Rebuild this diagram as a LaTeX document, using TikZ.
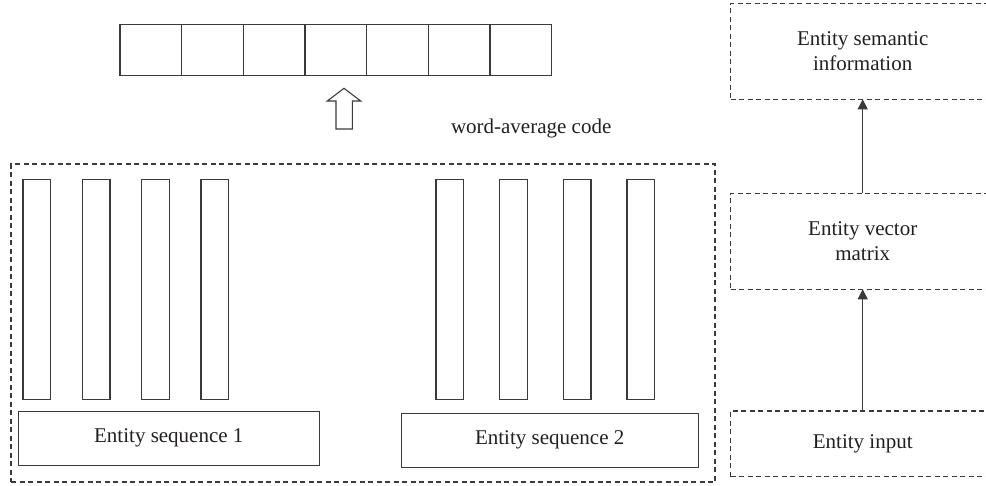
\documentclass[tikz,border=0pt]{standalone}
\usepackage{fontspec}
\setmainfont{Liberation Serif}
\usetikzlibrary{arrows.meta}

\definecolor{inkgray}{HTML}{3A3A3A}
\definecolor{textgray}{HTML}{231F20}

\begin{document}
\begin{tikzpicture}[x=1pt,y=-1pt,
  line width=1.1pt, draw=inkgray,
  every node/.style={inner sep=0pt, outer sep=0pt, text=textgray,
    font=\fontsize{21}{25}\selectfont, align=center},
  cell/.style={draw=inkgray, minimum width=61.67pt, minimum height=50.7pt},
  bar/.style={draw=inkgray, minimum width=27.7pt, minimum height=220pt},
  seqbox/.style={draw=inkgray, minimum height=53.5pt},
  dashbox/.style={draw=inkgray, dash pattern=on 5pt off 3.5pt},
  flow/.style={draw=inkgray, -{Triangle[length=10pt,width=10pt]}}]

\useasboundingbox (0,0) rectangle (986,485) ;

% word vector cells
\foreach \i in {0,...,6}
  \node[cell] (cell\i) at ({150.8+61.67*\i},49.7) {} ;

% hollow arrow under the cells
\draw[inkgray] (344,88.3) -- (360.7,101) -- (352.3,101) -- (352.3,129)
  -- (336,129) -- (336,101) -- (327.3,101) -- cycle ;

\node[anchor=base west] (avgcode) at (451,133) {word-average code} ;

% entity sequences
\node[dashbox, minimum width=704pt, minimum height=318pt] (seqgroup) at (363,323) {} ;

\foreach \i in {0,...,3}
  \node[bar] (barA\i) at ({36.85+59.33*\i},289.3) {} ;
\foreach \i in {0,...,3}
  \node[bar] (barB\i) at ({449.8+63.67*\i},289.3) {} ;

\node[seqbox, minimum width=301pt] (seqA) at (168.8,438.3) {Entity sequence 1} ;
\node[seqbox, minimum width=297.3pt] (seqB) at (549.7,440.3) {Entity sequence 2} ;

% right column
\node[dashbox, minimum width=264pt, minimum height=96pt] (semantic) at (862.7,51.3)
  {Entity semantic\\information} ;
\node[dashbox, minimum width=264pt, minimum height=96pt] (vecmat) at (862.7,241.3)
  {Entity vector\\matrix} ;
\node[dashbox, minimum width=264pt, minimum height=65.7pt] (input) at (862.7,443.8)
  {Entity input} ;

\draw[flow] (input.north) -- (vecmat.south) ;
\draw[flow] (vecmat.north) -- (semantic.south) ;

\end{tikzpicture}
\end{document}
